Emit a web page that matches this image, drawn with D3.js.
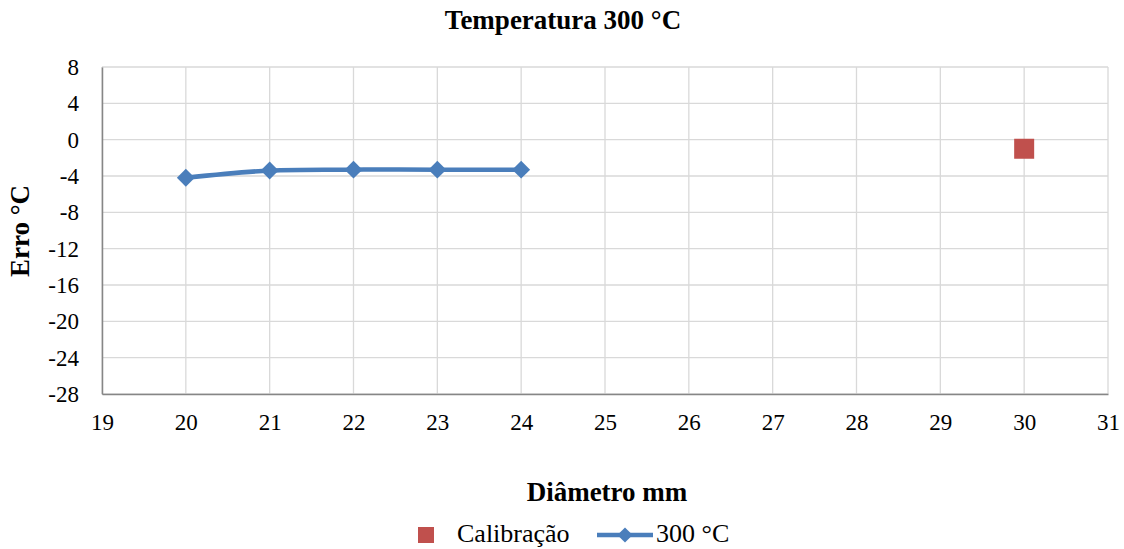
<!DOCTYPE html>
<html>
<head>
<meta charset="utf-8">
<script src="https://cdn.jsdelivr.net/npm/d3@7"></script>
<style>
  body { margin: 0; background: #fff; }
  svg text { font-family: "Liberation Serif", "Times New Roman", serif; fill: #000; }
</style>
</head>
<body>
<svg id="chart" width="1124" height="549"></svg>
<script>
// Chart data
const diametros = [20, 21, 22, 23, 24];
const erro300 = [-4.2, -3.4, -3.3, -3.3, -3.3];
const calibX = [30];
const calibY = [-1.0];
const xTicks = d3.range(19, 32, 1);
const yTicks = d3.range(-28, 9, 4);

const svg = d3.select("#chart");
const W = 1124, H = 549;
const margin = { left: 102, right: W - 1108, top: 67, bottom: H - 394 };
const serif = '"Liberation Serif", "Times New Roman", serif';

const x = d3.scaleLinear().domain([19, 31]).range([margin.left, W - margin.right]);
const y = d3.scaleLinear().domain([-28, 8]).range([H - margin.bottom, margin.top]);

// grid lines
svg.append("g")
  .selectAll("line")
  .data(yTicks)
  .join("line")
  .attr("x1", x(19)).attr("x2", x(31))
  .attr("y1", d => y(d)).attr("y2", d => y(d))
  .attr("stroke", "#d9d9d9").attr("stroke-width", 1.3);

svg.append("g")
  .selectAll("line")
  .data(xTicks)
  .join("line")
  .attr("x1", d => x(d)).attr("x2", d => x(d))
  .attr("y1", y(-28)).attr("y2", y(8))
  .attr("stroke", "#d9d9d9").attr("stroke-width", 1.3);

// axes
const xAxis = svg.append("g")
  .attr("transform", `translate(0,${y(-28)})`)
  .call(d3.axisBottom(x).tickValues(xTicks).tickSize(0).tickPadding(20).tickFormat(d => String(d)))
  .attr("font-family", serif).attr("font-size", 23);
xAxis.select(".domain").attr("stroke", "#868686").attr("stroke-width", 1.5);
xAxis.selectAll("text").attr("fill", "#000");

const yAxis = svg.append("g")
  .attr("transform", `translate(${x(19)},0)`)
  .call(d3.axisLeft(y).tickValues(yTicks).tickSize(0).tickPadding(23).tickFormat(d => String(d)))
  .attr("font-family", serif).attr("font-size", 23);
yAxis.select(".domain").attr("stroke", "#868686").attr("stroke-width", 1.5);
yAxis.selectAll("text").attr("fill", "#000");

// series line (smoothed)
const line = d3.line()
  .x((d, i) => x(diametros[i]))
  .y(d => y(d))
  .curve(d3.curveCatmullRom.alpha(0.5));

svg.append("path")
  .datum(erro300)
  .attr("fill", "none")
  .attr("stroke", "#4a7ebb")
  .attr("stroke-width", 4.5)
  .attr("d", line);

svg.append("g")
  .selectAll("path")
  .data(erro300)
  .join("path")
  .attr("d", d3.symbol().type(d3.symbolSquare).size(160))
  .attr("transform", (d, i) => `translate(${x(diametros[i])},${y(d)}) rotate(45)`)
  .attr("fill", "#4a7ebb");

// calibration point
svg.append("g")
  .selectAll("rect")
  .data(calibY)
  .join("rect")
  .attr("x", (d, i) => x(calibX[i]) - 10)
  .attr("y", d => y(d) - 10)
  .attr("width", 20).attr("height", 20)
  .attr("fill", "#c0504d");

// titles
svg.append("text")
  .attr("x", 563).attr("y", 29)
  .attr("text-anchor", "middle")
  .attr("font-size", 27).attr("font-weight", "bold")
  .text("Temperatura 300 °C");

svg.append("text")
  .attr("x", 607).attr("y", 501)
  .attr("text-anchor", "middle")
  .attr("font-size", 27).attr("font-weight", "bold")
  .text("Diâmetro mm");

svg.append("text")
  .attr("transform", "translate(29,231) rotate(-90)")
  .attr("text-anchor", "middle")
  .attr("font-size", 27).attr("font-weight", "bold")
  .text("Erro °C");

// legend
const lg = svg.append("g");
lg.append("rect").attr("x", 418).attr("y", 527).attr("width", 16).attr("height", 16).attr("fill", "#c0504d");
lg.append("text").attr("x", 457).attr("y", 542).attr("font-size", 26).text("Calibração");
lg.append("line").attr("x1", 597).attr("x2", 653).attr("y1", 535).attr("y2", 535)
  .attr("stroke", "#4a7ebb").attr("stroke-width", 4.5);
lg.append("path").attr("d", d3.symbol().type(d3.symbolSquare).size(115))
  .attr("transform", "translate(625,535) rotate(45)").attr("fill", "#4a7ebb");
lg.append("text").attr("x", 656).attr("y", 542).attr("font-size", 26).text("300 °C");
</script>
</body>
</html>
